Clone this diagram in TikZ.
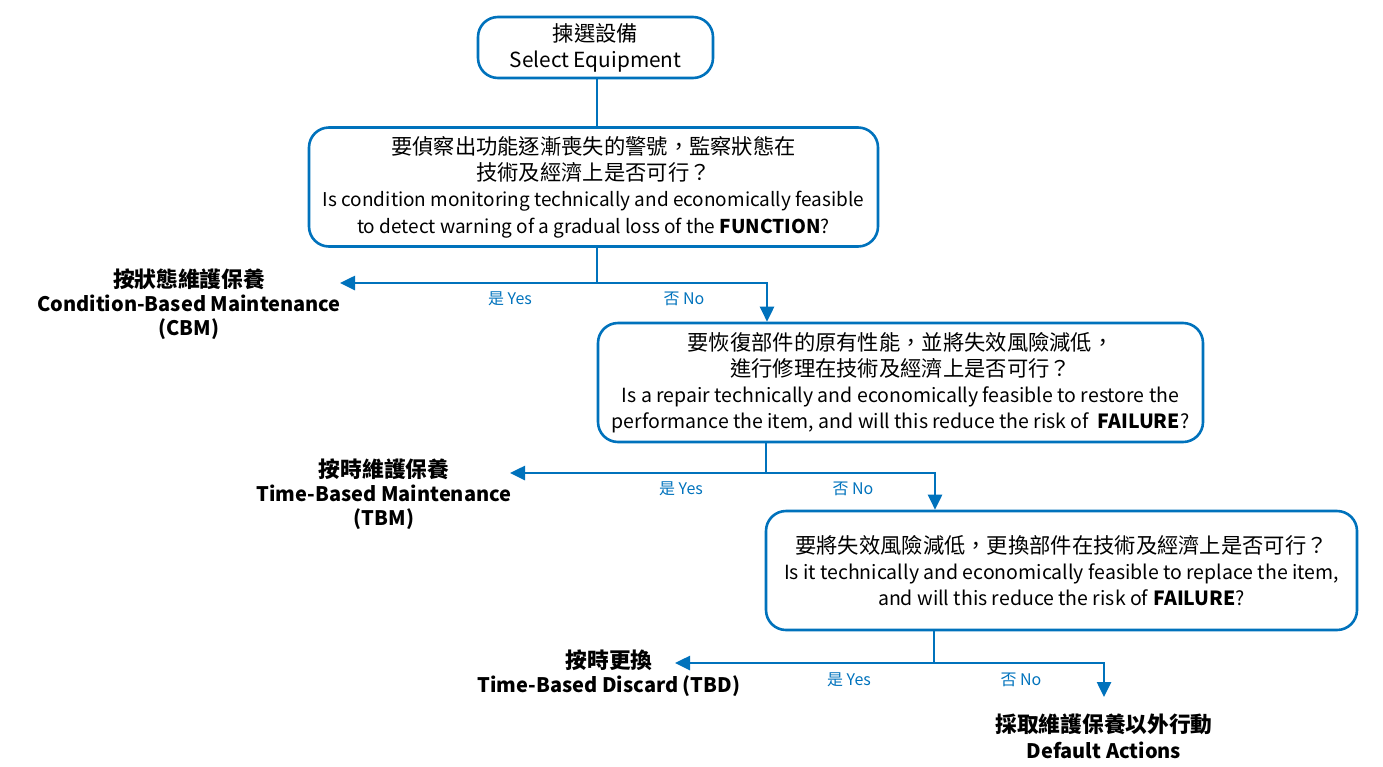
\documentclass[tikz,border=0pt]{standalone}
\usepackage{fontspec}
\setmainfont{Noto Sans CJK TC}
\usetikzlibrary{arrows.meta,positioning,calc}
\definecolor{FlowBlue}{RGB}{0,114,188}
\newcommand{\zh}{\fontsize{21.3}{26}\selectfont}
\newcommand{\zhbold}{\fontsize{21.7}{24}\selectfont}
\tikzset{
  flow/box/.style={
    draw=FlowBlue,
    line width=2.6pt,
    rounded corners=20pt,
    fill=white,
    align=center,
    text=black,
    inner sep=0pt,
    font=\fontsize{19.5}{26}\selectfont
  },
  flow/result/.style={align=center, text=black, font=\fontsize{20}{24}\selectfont\bfseries},
  flow/line/.style={draw=FlowBlue, line width=2.6pt},
  flow/arrow/.style={flow/line, -{Triangle[length=15pt,width=14pt]}},
  flow/answer/.style={font=\fontsize{16}{18}\selectfont, text=FlowBlue}
}
\begin{document}
\begin{tikzpicture}[x=1pt,y=-1pt]
  \useasboundingbox (0,0) rectangle (1383,766);
  % question boxes
  \node[flow/box,minimum width=235pt,minimum height=61pt,font=\fontsize{20.8}{26}\selectfont] (start) at (595.5,47.5)
    {{\zh 揀選設備}\\Select Equipment};
  \node[flow/box,minimum width=569pt,minimum height=119pt,font=\fontsize{19}{26.3}\selectfont] (monitor) at (593.5,187)
    {{\zh 要偵察出功能逐漸喪失的警號，監察狀態在}\\{\zh 技術及經濟上是否可行？}\\Is condition monitoring technically and economically feasible\\to detect warning of a gradual loss of the \textbf{FUNCTION}?};
  \node[flow/box,minimum width=605pt,minimum height=119pt] (repair) at (900.5,382.5)
    {{\zh 要恢復部件的原有性能，並將失效風險減低，}\\{\zh 進行修理在技術及經濟上是否可行？}\\Is a repair technically and economically feasible to restore the\\performance the item, and will this reduce the risk of \ \textbf{FAILURE}?};
  \node[flow/box,minimum width=591pt,minimum height=119pt] (replace) at (1061.5,570.5)
    {{\zh 要將失效風險減低，更換部件在技術及經濟上是否可行？}\\Is it technically and economically feasible to replace the item,\\and will this reduce the risk of \textbf{FAILURE}?};
  % outcomes
  \node[flow/result] (cbm) at (189,304) {{\zhbold 按狀態維護保養}\\Condition-Based Maintenance\\(CBM)};
  \node[flow/result] (tbm) at (384,494) {{\zhbold 按時維護保養}\\Time-Based Maintenance\\(TBM)};
  \node[flow/result] (tbd) at (609,673) {{\zhbold 按時更換}\\Time-Based Discard (TBD)};
  \node[flow/result,font=\fontsize{20}{26}\selectfont\bfseries] (default) at (1104,736) {{\zhbold 採取維護保養以外行動}\\Default Actions};
  % branch points
  \coordinate (split1) at (597,283);
  \coordinate (split2) at (766,473);
  \coordinate (split3) at (934,663);
  \coordinate (cbmin) at (340,283);
  \coordinate (tbmin) at (510,473);
  \coordinate (tbdin) at (675,663);
  \coordinate (defin) at (1104,697);
  % connectors
  \draw[flow/line] (start.south -| split1) -- (monitor.north -| split1);
  \draw[flow/line] (monitor.south -| split1) -- (split1);
  \draw[flow/arrow] (split1) -- (cbmin);
  \draw[flow/arrow] (split1) -| ([xshift=1pt]repair.north -| split2);
  \draw[flow/line] (repair.south -| split2) -- (split2);
  \draw[flow/arrow] (split2) -- (tbmin);
  \draw[flow/arrow] (split2) -| ([xshift=1pt]replace.north -| split3);
  \draw[flow/line] (replace.south -| split3) -- (split3);
  \draw[flow/arrow] (split3) -- (tbdin);
  \draw[flow/arrow] (split3) -| (defin);
  % answers
  \node[flow/answer] (yes1) at (510,299) {是 Yes};
  \node[flow/answer] (no1) at (684,299) {否 No};
  \node[flow/answer] (yes2) at (681,489) {是 Yes};
  \node[flow/answer] (no2) at (853,489) {否 No};
  \node[flow/answer] (yes3) at (849,680) {是 Yes};
  \node[flow/answer] (no3) at (1021,680) {否 No};
\end{tikzpicture}
\end{document}
